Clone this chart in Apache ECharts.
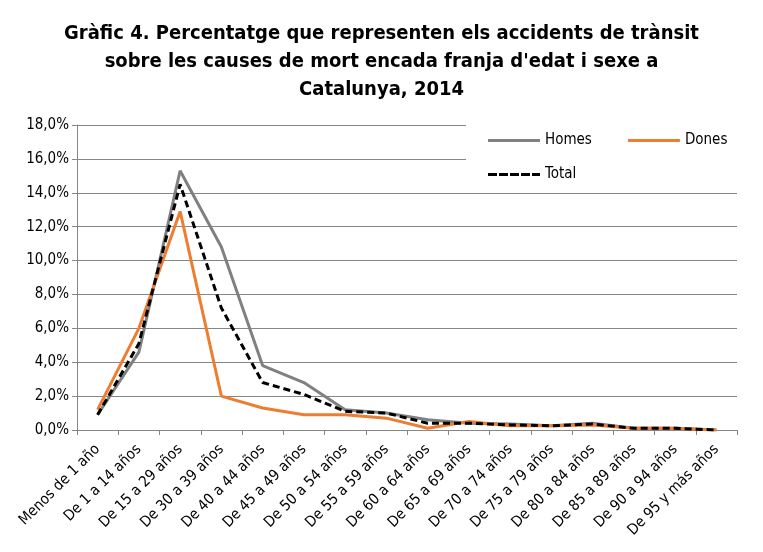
<!DOCTYPE html>
<html>
<head>
<meta charset="utf-8">
<script src="https://cdn.jsdelivr.net/npm/echarts@6/dist/echarts.min.js"></script>
<style>
  html, body { margin: 0; padding: 0; background: #fff; }
  #chart { width: 763px; height: 552px; }
</style>
</head>
<body>
<div id="chart"></div>
<script>
var FONT = "'DejaVu Sans Condensed', 'DejaVu Sans', sans-serif";

var categories = ['Menos de 1 año', 'De 1 a 14 años', 'De 15 a 29 años', 'De 30 a 39 años',
    'De 40 a 44 años', 'De 45 a 49 años', 'De 50 a 54 años', 'De 55 a 59 años',
    'De 60 a 64 años', 'De 65 a 69 años', 'De 70 a 74 años', 'De 75 a 79 años',
    'De 80 a 84 años', 'De 85 a 89 años', 'De 90 a 94 años', 'De 95 y más años'];

var homes = [0.9, 4.6, 15.3, 10.8, 3.8, 2.8, 1.2, 1.0, 0.6, 0.4, 0.35, 0.25, 0.4, 0.1, 0.1, 0.0];
var dones = [1.2, 6.0, 12.9, 2.0, 1.3, 0.9, 0.9, 0.7, 0.1, 0.5, 0.25, 0.25, 0.3, 0.1, 0.1, 0.0];
var total = [0.9, 5.1, 14.5, 7.2, 2.8, 2.1, 1.1, 1.0, 0.4, 0.4, 0.3, 0.25, 0.35, 0.1, 0.1, 0.0];

var myChart = echarts.init(document.getElementById('chart'));

var option = {
    backgroundColor: '#fff',
    animation: false,
    title: {
        text: 'Gràfic 4. Percentatge que representen els accidents de trànsit\nsobre les causes de mort encada franja d\'edat i sexe a\nCatalunya, 2014',
        left: 'center',
        top: 15,
        textStyle: {
            fontFamily: FONT,
            fontSize: 20,
            fontWeight: 'bold',
            color: '#000',
            lineHeight: 28
        }
    },
    grid: { left: 77, right: 26, top: 125, bottom: 122 },
    graphic: [{
        type: 'rect',
        z: 1,
        shape: { x: 466, y: 118, width: 272, height: 72 },
        style: { fill: '#fff' }
    }],
    legend: [{
        data: ['Homes', 'Dones'],
        left: 483, top: 128,
        itemWidth: 52, itemHeight: 14, itemGap: 36,
        icon: 'path://M0,5.5L52,5.5L52,8.5L0,8.5Z',
        textStyle: { fontFamily: FONT, fontSize: 15, color: '#000' }
    }, {
        data: ['Total'],
        left: 483, top: 162,
        itemWidth: 52, itemHeight: 14,
        icon: 'path://M0,5.5h9v3h-9z M11,5.5h9v3h-9z M22,5.5h9v3h-9z M33,5.5h9v3h-9z M44,5.5h8v3h-8z',
        textStyle: { fontFamily: FONT, fontSize: 15, color: '#000' }
    }],
    xAxis: {
        type: 'category',
        data: categories,
        boundaryGap: true,
        axisLine: { lineStyle: { color: '#868686', width: 1 } },
        axisTick: { show: true, length: 5, lineStyle: { color: '#868686' } },
        axisLabel: {
            rotate: 45,
            interval: 0,
            fontFamily: FONT,
            fontSize: 15,
            color: '#000',
            margin: 17
        }
    },
    yAxis: {
        type: 'value',
        min: 0, max: 18, interval: 2,
        axisLine: { show: true, lineStyle: { color: '#868686' } },
        axisTick: { show: true, length: 5, lineStyle: { color: '#868686' } },
        splitLine: { lineStyle: { color: '#868686', width: 1 } },
        axisLabel: {
            fontFamily: FONT,
            fontSize: 15,
            color: '#000',
            margin: 8,
            formatter: function (v) { return v.toFixed(1).replace('.', ',') + '%'; }
        }
    },
    series: [{
        name: 'Homes',
        type: 'line',
        data: homes,
        symbol: 'none',
        color: '#808080',
        lineStyle: { color: '#808080', width: 3 }
    }, {
        name: 'Dones',
        type: 'line',
        data: dones,
        symbol: 'none',
        color: '#ED7D31',
        lineStyle: { color: '#ED7D31', width: 3 }
    }, {
        name: 'Total',
        type: 'line',
        data: total,
        symbol: 'none',
        color: '#000',
        lineStyle: { color: '#000', width: 3, type: [7, 4] }
    }]
};

myChart.setOption(option);
</script>
</body>
</html>
